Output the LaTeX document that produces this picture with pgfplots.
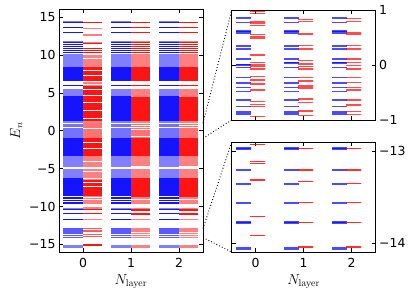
\documentclass[border=0pt]{standalone}
\usepackage[no-math]{fontspec}
\setmainfont{DejaVu Sans}
\usepackage{pgfplots}
\usepackage{pgfplotstable}
\pgfplotsset{compat=1.18}

% ---------- left panel: levels shared by the blue columns ----------
\pgfplotstableread{
val
14.37
11.80
10.05
9.92
9.79
9.66
9.53
9.40
9.27
9.14
9.01
8.88
8.75
8.62
8.49
5.40
5.27
5.14
5.01
4.88
4.75
4.62
1.28
1.15
1.04
-3.40
-3.54
-3.68
-3.82
-3.96
-4.10
-4.24
-4.38
-4.52
-4.66
-5.13
-5.26
-5.39
-5.52
-5.65
-5.78
-5.91
-6.04
-6.17
-10.21
-15.16
-15.27
-15.38
}\blueLight

\pgfplotstableread{
val
14.24
13.57
12.95
11.68
11.40
11.10
10.83
10.57
10.30
8.30
8.17
8.04
7.91
7.78
7.65
7.52
7.39
7.26
7.13
7.00
6.87
6.74
6.61
5.95
4.49
4.36
4.23
4.10
3.97
3.84
3.71
3.58
3.45
3.32
3.19
3.06
2.93
2.80
2.67
2.54
2.41
2.28
2.15
2.02
1.89
1.76
1.63
1.50
1.40
-1.05
-1.18
-1.31
-1.44
-1.57
-1.70
-1.83
-1.96
-2.09
-2.22
-2.35
-2.48
-2.61
-2.74
-2.87
-3.00
-3.13
-3.26
-6.30
-6.43
-6.56
-6.69
-6.82
-6.95
-7.08
-7.21
-7.34
-7.47
-7.60
-7.73
-7.86
-7.99
-8.12
-8.25
-8.38
-8.51
-8.76
-8.98
-9.20
-9.43
-9.65
-10.43
-10.96
-11.67
}\blueDark

% ---------- left panel: red, N = 1 and 2 ----------
\pgfplotstableread{
val
14.33
11.76
10.02
9.89
9.76
9.63
9.50
9.37
9.24
9.11
8.98
8.85
8.72
8.59
8.46
5.43
5.30
5.17
5.04
4.91
4.78
4.65
4.52
1.30
1.18
1.06
-3.36
-3.50
-3.64
-3.78
-3.92
-4.06
-4.20
-4.34
-4.48
-4.62
-5.10
-5.23
-5.36
-5.49
-5.62
-5.75
-5.88
-6.01
-6.14
-8.74
-8.96
-9.18
-9.41
-9.63
-10.21
-11.70
-15.10
-15.20
-15.30
-15.40
}\redLight

\pgfplotstableread{
val
14.26
13.60
12.97
11.65
11.42
11.12
10.85
10.58
10.32
8.33
8.20
8.07
7.94
7.81
7.68
7.55
7.42
7.29
7.16
7.03
6.90
6.77
6.64
5.97
4.40
4.27
4.14
4.01
3.88
3.75
3.62
3.49
3.36
3.23
3.10
2.97
2.84
2.71
2.58
2.45
2.32
2.19
2.06
1.93
1.80
1.67
1.54
1.42
-1.03
-1.16
-1.29
-1.42
-1.55
-1.68
-1.81
-1.94
-2.07
-2.20
-2.33
-2.46
-2.59
-2.72
-2.85
-2.98
-3.11
-3.24
-6.27
-6.40
-6.53
-6.66
-6.79
-6.92
-7.05
-7.18
-7.31
-7.44
-7.57
-7.70
-7.83
-7.96
-8.09
-8.22
-8.35
-8.48
-8.61
-10.45
-10.98
}\redDark

% ---------- left panel: red, N = 0 ----------
\pgfplotstableread{
val
13.48
12.64
11.62
9.98
9.80
9.62
9.44
9.26
9.08
8.90
8.72
8.54
6.30
6.02
1.28
1.12
-3.42
-3.60
-3.78
-3.96
-4.14
-4.32
-4.50
-4.66
-5.12
-5.30
-5.48
-5.66
-5.84
-6.02
-6.20
-6.38
-8.72
-8.95
-9.18
-9.40
-9.62
-10.20
-11.75
}\redzLight

\pgfplotstableread{
val
14.28
11.50
10.83
10.57
10.30
8.30
8.17
8.04
7.78
7.65
7.52
7.39
7.13
7.00
6.87
6.74
6.61
5.82
5.69
5.56
5.30
5.17
5.04
4.91
4.78
4.52
4.39
4.26
4.13
4.00
3.87
3.61
3.48
3.35
3.22
3.09
2.96
2.83
2.57
2.44
2.31
2.18
2.05
1.92
1.79
1.53
1.40
-1.05
-1.18
-1.31
-1.44
-1.70
-1.83
-1.96
-2.09
-2.22
-2.48
-2.61
-2.74
-2.87
-3.00
-3.13
-3.26
-6.55
-6.68
-6.94
-7.07
-7.20
-7.46
-7.59
-7.72
-7.85
-7.98
-8.11
-8.24
-8.37
-8.50
-10.43
-10.96
-15.07
}\redzDark

% ---------- window -1 .. 1 ----------
\pgfplotstableread{
val
0.860
0.845
0.776
0.620
0.600
0.576
0.351
0.335
0.290
0.109
0.013
-0.003
-0.048
-0.230
-0.320
-0.335
-0.410
-0.485
-0.636
-0.758
-0.850
-0.875
-0.897
}\topBa
\pgfplotstableread{
val
0.970
0.940
0.780
0.750
0.720
0.550
0.510
0.480
0.180
0.049
0.000
-0.024
-0.073
-0.210
-0.270
-0.345
-0.455
-0.667
-0.715
-0.758
-0.940
}\topRa
\pgfplotstableread{
val
0.860
0.845
0.776
0.620
0.600
0.576
0.351
0.335
0.290
0.109
0.049
0.033
-0.048
-0.230
-0.320
-0.335
-0.410
-0.485
-0.636
-0.758
-0.850
-0.875
-0.897
}\topBb
\pgfplotstableread{
val
0.830
0.790
0.576
0.560
0.351
0.290
0.078
0.018
-0.024
-0.073
-0.230
-0.290
-0.380
-0.420
-0.618
-0.680
-0.836
-0.920
}\topRb
\pgfplotstableread{
val
0.860
0.845
0.776
0.620
0.600
0.576
0.351
0.335
0.290
0.109
0.049
0.033
-0.048
-0.230
-0.320
-0.335
-0.410
-0.485
-0.636
-0.758
-0.850
-0.875
-0.897
}\topBc
\pgfplotstableread{
val
0.850
0.790
0.590
0.576
0.560
0.351
0.290
0.109
0.049
-0.012
-0.073
-0.230
-0.320
-0.410
-0.455
-0.636
-0.727
-0.850
-0.897
}\topRc

% ---------- window -14.1 .. -12.9 ----------
\pgfplotstableread{
val
-12.964
-12.976
-13.199
-13.211
-13.350
-13.362
-13.560
-13.572
-13.773
-13.785
-14.054
-14.066
}\botBa
\pgfplotstableread{
val
-12.928
-13.116
-13.134
-13.314
-13.711
-13.921
}\botRa
\pgfplotstableread{
val
-12.964
-12.976
-13.199
-13.211
-13.350
-13.362
-13.560
-13.572
-13.773
-13.785
-14.054
-14.066
}\botBb
\pgfplotstableread{
val
-12.971
-13.206
-13.332
-13.560
-13.776
-14.047
}\botRb
\pgfplotstableread{
val
-12.964
-12.976
-13.199
-13.211
-13.350
-13.362
-13.560
-13.572
-13.773
-13.785
-14.054
-14.066
}\botBc
\pgfplotstableread{
val
-12.971
-13.206
-13.350
-13.560
-13.776
-14.047
}\botRc

% level segments as horizontal marks: table, x centre, half length, colour, opacity, line width
\newcommand\lev[6]{%
  \addplot[only marks, mark=-, mark size=#3, forget plot,
    mark options={draw=#4, draw opacity=#5, line width=#6}]
    table[x expr=#2, y=val] {#1};}

\pgfplotsset{
  every axis/.append style={
    scale only axis,
    axis line style={line width=0.8pt},
    tick style={black, line width=0.6pt},
    major tick length=4bp,
    tick align=inside,
    ticklabel style={font=\fontsize{12.5}{14}\selectfont},
    label style={font=\fontsize{14}{16}\selectfont},
    xmin=-0.5, xmax=2.5,
    xtick={0,1,2},
  },
}

\begin{document}
\begin{tikzpicture}
\path[use as bounding box] (0,0) rectangle (415bp,295bp);

% ================= left panel =================
\begin{axis}[
  at={(59bp,43bp)}, anchor=south west,
  width=144bp, height=242.5bp,
  ymin=-16, ymax=16,
  ytick={-15,-10,-5,0,5,10,15},
  yticklabels={−15,−10,−5,0,5,10,15},
  xticklabels={0,1,2},
  xticklabel style={yshift=-3bp},
  xlabel={$N_{\mathrm{layer}}$},
  ylabel={$E_n$},
]
% N = 0
\lev{\blueLight}{-0.215}{9.85bp}{blue!50}{1}{1.15pt}
\lev{\blueDark}{-0.215}{9.85bp}{blue!92}{1}{1.15pt}
\lev{\topBa}{-0.215}{9.85bp}{blue!55}{1}{1.15pt}
\lev{\botBa}{-0.215}{9.85bp}{blue!65}{1}{1.15pt}
\lev{\redzLight}{0.19}{9.6bp}{red!50}{1}{1.15pt}
\lev{\redzDark}{0.19}{9.6bp}{red!92}{1}{1.15pt}
\lev{\topRa}{0.19}{9.6bp}{red!55}{1}{1.15pt}
\lev{\botRa}{0.19}{9.6bp}{red!65}{1}{1.15pt}
% N = 1
\lev{\blueLight}{0.785}{9.85bp}{blue!50}{1}{1.15pt}
\lev{\blueDark}{0.785}{9.85bp}{blue!92}{1}{1.15pt}
\lev{\topBb}{0.785}{9.85bp}{blue!55}{1}{1.15pt}
\lev{\botBb}{0.785}{9.85bp}{blue!65}{1}{1.15pt}
\lev{\redLight}{1.19}{9.6bp}{red!50}{1}{1.15pt}
\lev{\redDark}{1.19}{9.6bp}{red!92}{1}{1.15pt}
\lev{\topRb}{1.19}{9.6bp}{red!55}{1}{1.15pt}
\lev{\botRb}{1.19}{9.6bp}{red!50}{1}{1.15pt}
% N = 2
\lev{\blueLight}{1.785}{9.85bp}{blue!50}{1}{1.15pt}
\lev{\blueDark}{1.785}{9.85bp}{blue!92}{1}{1.15pt}
\lev{\topBc}{1.785}{9.85bp}{blue!55}{1}{1.15pt}
\lev{\botBc}{1.785}{9.85bp}{blue!65}{1}{1.15pt}
\lev{\redLight}{2.19}{9.6bp}{red!50}{1}{1.15pt}
\lev{\redDark}{2.19}{9.6bp}{red!92}{1}{1.15pt}
\lev{\topRc}{2.19}{9.6bp}{red!55}{1}{1.15pt}
\lev{\botRc}{2.19}{9.6bp}{red!50}{1}{1.15pt}
\coordinate (L1) at (axis cs:2.5,1);
\coordinate (L2) at (axis cs:2.5,-1);
\coordinate (L3) at (axis cs:2.5,-12.9);
\coordinate (L4) at (axis cs:2.5,-14.1);
\end{axis}

% ================= right top panel =================
\begin{axis}[
  at={(231.7bp,175bp)}, anchor=south west,
  width=144bp, height=110bp,
  ymin=-1, ymax=1,
  ytick={-1,0,1},
  yticklabels={−1,0,1},
  yticklabel pos=right,
  xticklabels={},
]
\lev{\topBa}{-0.26}{7.7bp}{blue}{0.7}{1.4pt}
\lev{\topRa}{0.04}{7.7bp}{red}{0.7}{1.4pt}
\lev{\topBb}{0.74}{7.7bp}{blue}{0.7}{1.4pt}
\lev{\topRb}{1.04}{7.7bp}{red}{0.7}{1.4pt}
\lev{\topBc}{1.74}{7.7bp}{blue}{0.7}{1.4pt}
\lev{\topRc}{2.04}{7.7bp}{red}{0.7}{1.4pt}
\coordinate (R1) at (rel axis cs:0,1);
\coordinate (R2) at (rel axis cs:0,0);
\end{axis}

% ================= right bottom panel =================
\begin{axis}[
  at={(231.7bp,43bp)}, anchor=south west,
  width=144bp, height=110bp,
  ymin=-14.1, ymax=-12.9,
  ytick={-14,-13},
  yticklabels={−14,−13},
  yticklabel pos=right,
  xticklabels={0,1,2},
  xticklabel style={yshift=-3bp},
  xlabel={$N_{\mathrm{layer}}$},
]
\lev{\botBa}{-0.26}{7.7bp}{blue}{0.7}{1.4pt}
\lev{\botRa}{0.04}{7.7bp}{red}{0.8}{1.4pt}
\lev{\botBb}{0.74}{7.7bp}{blue}{0.7}{1.4pt}
\lev{\botRb}{1.04}{7.7bp}{red}{0.8}{1.4pt}
\lev{\botBc}{1.74}{7.7bp}{blue}{0.7}{1.4pt}
\lev{\botRc}{2.04}{7.7bp}{red}{0.8}{1.4pt}
\coordinate (R3) at (rel axis cs:0,1);
\coordinate (R4) at (rel axis cs:0,0);
\end{axis}

\draw[line width=0.9bp, dash pattern=on 0.9bp off 2.1bp] (L1) -- (R1);
\draw[line width=0.9bp, dash pattern=on 0.9bp off 2.1bp] (L2) -- (R2);
\draw[line width=0.9bp, dash pattern=on 0.9bp off 2.1bp] (L3) -- (R3);
\draw[line width=0.9bp, dash pattern=on 0.9bp off 2.1bp] (L4) -- (R4);
\end{tikzpicture}
\end{document}
